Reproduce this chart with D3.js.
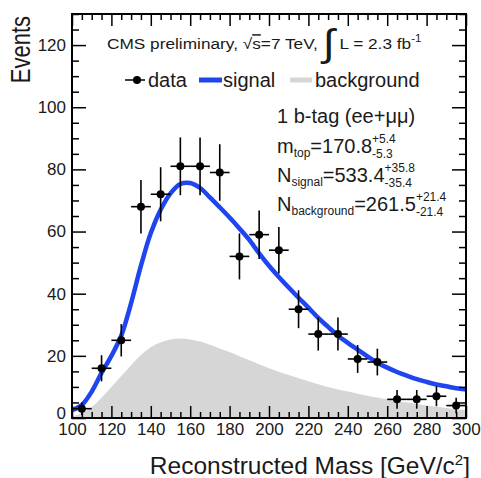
<!DOCTYPE html>
<html>
<head>
<meta charset="utf-8">
<script src="https://cdn.jsdelivr.net/npm/d3@7"></script>
<style>
  body { margin: 0; background: #fff; }
  text { font-family: "Liberation Sans", Arial, sans-serif; fill: #1a1a1a; }
</style>
</head>
<body>
<svg width="481" height="478"></svg>
<script>
// measured data, 10 GeV bins
const binCenters = [105, 115, 125, 135, 145, 155, 165, 175, 185, 195, 205, 215, 225, 235, 245, 255, 265, 275, 285, 295];
const eventCounts = [3, 16, 25, 68, 72, 81, 81, 79, 52, 59, 54, 35, 27, 27, 19, 18, 6, 6, 7, 4];
const eventErrors = [2, 4.2, 5.2, 8.6, 8.7, 9.3, 9.3, 9.1, 7.4, 7.8, 7.5, 6.1, 5.3, 5.3, 4.5, 4.3, 3, 3, 3.2, 2.5];

// fitted curves, sampled every 5 GeV
const fitMass = [100, 105, 110, 115, 120, 125, 130, 135, 140, 145, 150, 155, 160, 165, 170, 175, 180, 185, 190, 195,
                 200, 205, 210, 215, 220, 225, 230, 235, 240, 245, 250, 255, 260, 265, 270, 275, 280, 285, 290, 295, 300];
const fitSignal = [2.5, 4.2, 8.5, 14.5, 20, 26.5, 37, 49, 59.5, 67, 72.3, 75.3, 75.6, 74, 71, 67.8, 64.5, 61, 57.3, 53,
                   49, 45.4, 42, 38.7, 35.5, 32.2, 29.3, 26.5, 24.2, 22, 19.8, 17.8, 16.2, 14.8, 13.6, 12.5, 11.6, 10.8, 10.2, 9.6, 9.2];
const fitBackground = [0.5, 1.5, 3.5, 6.5, 10, 13.5, 17, 20.3, 22.8, 24.4, 25.3, 25.6, 25.3, 24.6, 23.6, 22.4, 21.2, 19.9, 18.6, 17.3,
                       16, 14.9, 13.8, 12.8, 11.8, 10.9, 10, 9.2, 8.5, 7.8, 7.2, 6.6, 6, 5.5, 5, 4.5, 4, 3.6, 3.2, 2.8, 2.5];

const xTicks = [100, 120, 140, 160, 180, 200, 220, 240, 260, 280, 300];
const yTicks = [0, 20, 40, 60, 80, 100, 120];
const xMinor = d3.range(100, 301, 5).filter(v => !xTicks.includes(v));
const yMinor = d3.range(0, 131, 5).filter(v => !yTicks.includes(v));

const svg = d3.select('svg');
const margin = { top: 14, right: 15, bottom: 60, left: 72 };
const width = +svg.attr('width');
const height = +svg.attr('height');
const innerWidth = width - margin.left - margin.right;
const innerHeight = height - margin.top - margin.bottom;

const x = d3.scaleLinear().domain([100, 300]).range([0, innerWidth]);
const y = d3.scaleLinear().domain([0, 130]).range([innerHeight, 0]);

const g = svg.append('g').attr('transform', `translate(${margin.left}, ${margin.top})`);

g.append('clipPath').attr('id', 'frame-clip')
  .append('rect').attr('width', innerWidth).attr('height', innerHeight);

const plot = g.append('g').attr('clip-path', 'url(#frame-clip)');

const fit = fitMass.map((m, i) => ({ m, s: fitSignal[i], b: fitBackground[i] }));

// background
plot.append('path')
  .attr('d', d3.area().x(d => x(d.m)).y0(y(0)).y1(d => y(d.b)).curve(d3.curveCatmullRom)(fit))
  .attr('fill', '#d6d6d6');

// signal
plot.append('path')
  .attr('d', d3.line().x(d => x(d.m)).y(d => y(d.s)).curve(d3.curveCatmullRom)(fit))
  .attr('fill', 'none')
  .attr('stroke', '#1f45f0')
  .attr('stroke-width', 4.5);

// data points
const pts = binCenters.map((c, i) => ({ c, n: eventCounts[i], e: eventErrors[i] }));
const dataG = plot.append('g').attr('stroke', '#000').attr('stroke-width', 1.6);
dataG.selectAll('.ey').data(pts).join('line')
  .attr('x1', d => x(d.c)).attr('x2', d => x(d.c))
  .attr('y1', d => y(d.n - d.e)).attr('y2', d => y(d.n + d.e));
dataG.selectAll('.ex').data(pts).join('line')
  .attr('x1', d => x(d.c - 5)).attr('x2', d => x(d.c + 5))
  .attr('y1', d => y(d.n)).attr('y2', d => y(d.n));
plot.selectAll('circle').data(pts).join('circle')
  .attr('cx', d => x(d.c)).attr('cy', d => y(d.n)).attr('r', 4)
  .attr('fill', '#000');

// axes (ROOT style, ticks pointing inward on all four sides)
const styleAxis = a => { a.select('.domain').remove(); a.selectAll('line').attr('stroke', '#000').attr('stroke-width', 1.5); };

g.append('g').attr('transform', `translate(0, ${innerHeight})`)
  .call(d3.axisBottom(x).tickValues(xTicks).tickSizeInner(-12).tickSizeOuter(0).tickPadding(5).tickFormat(d3.format('d')))
  .call(styleAxis)
  .selectAll('text').style('font-size', '17px').attr('fill', '#1a1a1a').attr('dy', '0.71em');
g.append('g').attr('transform', `translate(0, ${innerHeight})`)
  .call(d3.axisBottom(x).tickValues(xMinor).tickSizeInner(-6).tickSizeOuter(0).tickFormat(''))
  .call(styleAxis);
g.append('g')
  .call(d3.axisTop(x).tickValues(xTicks).tickSizeInner(-12).tickSizeOuter(0).tickFormat(''))
  .call(styleAxis);
g.append('g')
  .call(d3.axisTop(x).tickValues(xMinor).tickSizeInner(-6).tickSizeOuter(0).tickFormat(''))
  .call(styleAxis);

g.append('g')
  .call(d3.axisLeft(y).tickValues(yTicks).tickSizeInner(-14).tickSizeOuter(0).tickPadding(6))
  .call(styleAxis)
  .selectAll('text').style('font-size', '17px').attr('fill', '#1a1a1a')
  .attr('dy', d => d === 0 ? '0.02em' : '0.32em');
g.append('g')
  .call(d3.axisLeft(y).tickValues(yMinor).tickSizeInner(-7).tickSizeOuter(0).tickFormat(''))
  .call(styleAxis);
g.append('g').attr('transform', `translate(${innerWidth}, 0)`)
  .call(d3.axisRight(y).tickValues(yTicks).tickSizeInner(-14).tickSizeOuter(0).tickFormat(''))
  .call(styleAxis);
g.append('g').attr('transform', `translate(${innerWidth}, 0)`)
  .call(d3.axisRight(y).tickValues(yMinor).tickSizeInner(-7).tickSizeOuter(0).tickFormat(''))
  .call(styleAxis);

g.append('rect')
  .attr('width', innerWidth).attr('height', innerHeight)
  .attr('fill', 'none').attr('stroke', '#000').attr('stroke-width', 2);

// axis titles
svg.append('text')
  .attr('x', 470).attr('y', 474)
  .attr('text-anchor', 'end')
  .style('font-size', '24.5px')
  .html('Reconstructed Mass [GeV/c<tspan dy="-9" style="font-size:15px">2</tspan><tspan dy="9">]</tspan>');

svg.append('text')
  .attr('transform', 'translate(30, 16) rotate(-90) scale(1, 1.25)')
  .attr('text-anchor', 'end')
  .style('font-size', '22px')
  .text('Events');

// header (the original lettering is a little wide, so stretch it)
svg.append('text')
  .attr('transform', 'translate(107, 49) scale(1.15, 1)')
  .style('font-size', '15px')
  .html('CMS preliminary, √<tspan style="text-decoration:overline">s</tspan>=7 TeV, ' +
        '<tspan dy="7" style="font-size:38px">∫</tspan><tspan dy="-7"> L = 2.3 fb</tspan>' +
        '<tspan dy="-7" style="font-size:10px">-1</tspan>');

// legend
const legend = svg.append('g').attr('transform', 'translate(0, 80)');
legend.append('line').attr('x1', 125).attr('x2', 145).attr('stroke', '#000').attr('stroke-width', 1.5);
legend.append('circle').attr('cx', 137).attr('r', 4).attr('fill', '#000');
legend.append('text').attr('x', 148).attr('y', 7).style('font-size', '20px').text('data');
legend.append('line').attr('x1', 199).attr('x2', 222).attr('stroke', '#1f45f0').attr('stroke-width', 5);
legend.append('text').attr('x', 223).attr('y', 7).style('font-size', '20px').text('signal');
legend.append('line').attr('x1', 290).attr('x2', 312).attr('stroke', '#d6d6d6').attr('stroke-width', 5);
legend.append('text').attr('x', 315).attr('y', 7).style('font-size', '20px').text('background');

// fit results
const annot = svg.append('g');
const mathLine = (yPos, pieces) => {
  let cx = 277;
  pieces.forEach(p => {
    if (p.main) {
      const t = annot.append('text').attr('x', cx).attr('y', yPos).style('font-size', '20px').text(p.main);
      cx += t.node().getComputedTextLength();
    }
    if (p.sub && !p.sup) {
      const t = annot.append('text').attr('x', cx).attr('y', yPos + 4).style('font-size', '12px').text(p.sub);
      cx += t.node().getComputedTextLength();
    }
    if (p.sup) {
      const a = annot.append('text').attr('x', cx).attr('y', yPos - 10).style('font-size', '12px').text(p.sup);
      const b = annot.append('text').attr('x', cx).attr('y', yPos + 5).style('font-size', '12px').text(p.sub);
      cx += Math.max(a.node().getComputedTextLength(), b.node().getComputedTextLength());
    }
  });
};

annot.append('text').attr('x', 277).attr('y', 123).style('font-size', '20px').text('1 b-tag (ee+μμ)');
mathLine(153, [{ main: 'm' }, { sub: 'top' }, { main: '=170.8' }, { sup: '+5.4', sub: '-5.3' }]);
mathLine(182, [{ main: 'N' }, { sub: 'signal' }, { main: '=533.4' }, { sup: '+35.8', sub: '-35.4' }]);
mathLine(211, [{ main: 'N' }, { sub: 'background' }, { main: '=261.5' }, { sup: '+21.4', sub: '-21.4' }]);
</script>
</body>
</html>
